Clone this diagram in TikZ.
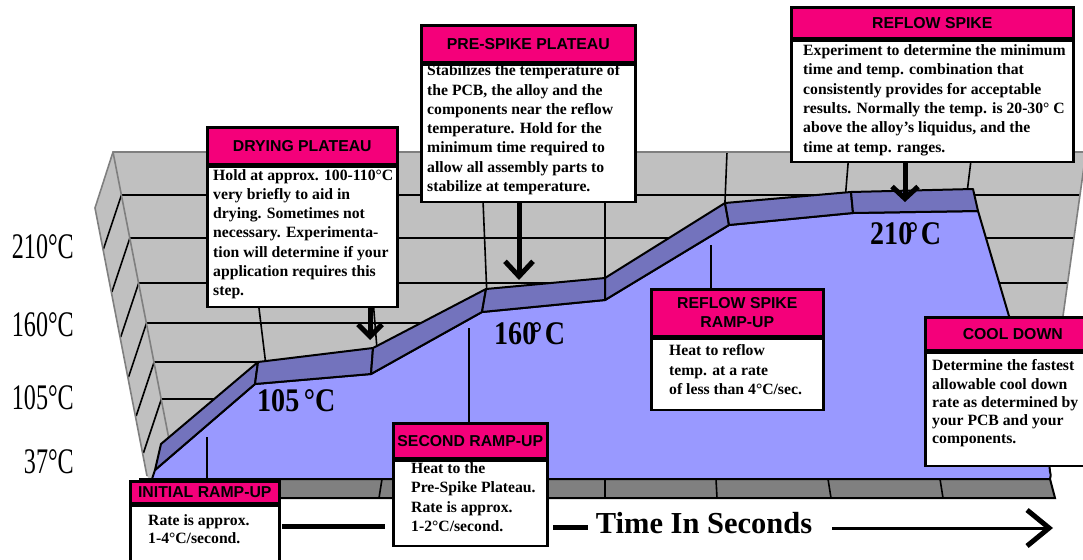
\documentclass[tikz,border=0pt]{standalone}
\usepackage{fontspec}
\usepackage{graphicx}
\setmainfont{Liberation Serif}
\newfontfamily\hfont{Liberation Sans}
\usetikzlibrary{arrows.meta,calc}
\definecolor{wallgray}{HTML}{C0C0C0}
\definecolor{floorgray}{HTML}{808080}
\definecolor{edgegray}{HTML}{7F7F7F}
\definecolor{lilac}{HTML}{9999FF}
\definecolor{ribbon}{HTML}{7373BD}
\definecolor{magentabox}{HTML}{F4007A}
\begin{document}
\begin{tikzpicture}[x=1pt,y=-1pt,
  wallline/.style={line width=1.6pt},
  edgeline/.style={draw=edgegray,line width=1.6pt},
  hdr/.style={draw, line width=2.6pt, fill=magentabox, inner sep=0pt, anchor=north west, align=center, font=\hfont\bfseries\fontsize{15.8}{18.5}\selectfont},
  bodybox/.style={draw, line width=2.6pt, fill=white, inner sep=0pt, anchor=north west},
  bodytext/.style={inner sep=0pt, anchor=north west, align=left, font=\bfseries\fontsize{15.7}{19.3}\selectfont},
  templab/.style={inner sep=0pt, anchor=east, font=\fontsize{36}{40}\selectfont},
  plotlab/.style={inner sep=0pt, anchor=west, font=\bfseries\fontsize{33}{36}\selectfont},
  bigarrow/.style={line width=5pt, -{Straight Barb[length=12pt,width=24pt]}},
  leader/.style={line width=1.4pt},
  axisline/.style={line width=5pt},
  band/.style={fill=ribbon, draw=black, line width=2pt, line join=round},
]
\useasboundingbox (0,0) rectangle (1083,559);
\clip (0,0) rectangle (1083,559);

% ---------- back wall and side wall ----------
\fill[wallgray] (113,152) -- (1086,152) -- (1040,480) -- (150,480) -- (147,476) -- (95,208) -- cycle;
\foreach \y in {195,238,283,323,362,399,440}{
  \draw[wallline] ({113+(\y-152)*0.196},\y) -- ({1086-(\y-152)*0.142},\y);
  \draw[wallline] ({113+(\y-152)*0.196},\y) -- ++(-18,54);
}
\foreach \xt in {240,361,481,605,727,849,972}{
  \draw[wallline] (\xt,152) -- ({605+(\xt-605)*0.8907},480);
}
\draw[edgeline] (147,476) -- (95,208) -- (113,152) -- (1086,152) -- (1040,480);
\draw[edgeline] (113,152) -- (175,470);

% ---------- profile area ----------
\filldraw[fill=lilac, line width=2pt, line join=round] (155,470) -- (255,384) -- (371,374) -- (482,312) -- (605,300) -- (729,225) -- (853,213) -- (978,211) -- (1052,462) .. controls (1046,468) and (1053,474) .. (1050,479) -- (152,479) -- cycle;
\filldraw[band] (161,444) -- (258,362) -- (255,384) -- (155,470) -- cycle;
\filldraw[band] (258,362) -- (373,348) -- (371,374) -- (255,384) -- cycle;
\filldraw[band] (373,348) -- (486,289) -- (482,312) -- (371,374) -- cycle;
\filldraw[band] (486,289) -- (605,278) -- (605,300) -- (482,312) -- cycle;
\filldraw[band] (605,278) -- (725,203) -- (729,225) -- (605,300) -- cycle;
\filldraw[band] (725,203) -- (851,192) -- (853,213) -- (729,225) -- cycle;
\filldraw[band] (851,192) -- (973,189) -- (978,211) -- (853,213) -- cycle;

% ---------- floor strip ----------
\filldraw[fill=floorgray, line width=2pt] (140,479) -- (1050,479) -- (1055,498) -- (140,498) -- cycle;
\foreach \a/\b in {382/379,494/493,605/605,716/717,828/831,940/943}{
  \draw[line width=1.6pt] (\a,479) -- (\b,498);
}

% ---------- temperature labels ----------
\node[templab] (l210) at (74,247) {\scalebox{0.67}[1]{210°C}};
\node[templab] (l160) at (74,325) {\scalebox{0.67}[1]{160°C}};
\node[templab] (l105) at (74,397.5) {\scalebox{0.67}[1]{105°C}};
\node[templab] (l37) at (74,461.5) {\scalebox{0.67}[1]{37°C}};

\node[plotlab] (p105) at (257,401) {\scalebox{0.85}[1]{105\,°C}};
\node[plotlab] (p160) at (494,334) {\scalebox{0.85}[1]{160\kern-6pt°\kern3pt C}};
\node[plotlab] (p210) at (870,234) {\scalebox{0.85}[1]{210\kern-6pt°\kern3pt C}};

% ---------- time axis ----------
\coordinate (axA) at (282,526);
\coordinate (axB) at (385,526);
\coordinate (axC) at (553,527);
\coordinate (axD) at (588,527);
\coordinate (axE) at (832,528);
\coordinate (axF) at (1053,528);
\draw[axisline] (axA) -- (axB);
\draw[axisline] (axC) -- (axD);
\draw[line width=3pt, -{Straight Barb[length=22pt,width=36pt,line width=5pt]}] (axE) -- (axF);
\node[inner sep=0pt, anchor=base, font=\bfseries\fontsize{30.5}{34}\selectfont] (time) at (704,533) {Time In Seconds};

% ---------- boxes ----------
% Drying plateau
\node[hdr, minimum width=190pt, minimum height=37pt] (dryH) at (206,126) {DRYING PLATEAU};
\node[bodybox, minimum width=190pt, minimum height=140pt] (dryB) at (dryH.south west) {};
\node[bodytext] (dryT) at (213,169) {Hold at approx. 100-110°C\\very briefly to aid in\\drying. Sometimes not\\necessary. Experimenta-\\tion will determine if your\\application requires this\\step.};

% Pre-spike plateau
\node[hdr, minimum width=214pt, minimum height=37pt] (preH) at (420,24) {PRE-SPIKE PLATEAU};
\node[bodybox, minimum width=214pt, minimum height=137pt] (preB) at (preH.south west) {};
\node[bodytext] (preT) at (427,64.5) {Stabilizes the temperature of\\the PCB, the alloy and the\\components near the reflow\\temperature. Hold for the\\minimum time required to\\allow all assembly parts to\\stabilize at temperature.};

% Reflow spike
\node[hdr, minimum width=282pt, minimum height=31pt] (refH) at (790,6) {REFLOW SPIKE};
\node[bodybox, minimum width=282pt, minimum height=121pt] (refB) at (refH.south west) {};
\node[bodytext] (refT) at (803,44.5) {Experiment to determine the minimum\\time and temp. combination that\\consistently provides for acceptable\\results. Normally the temp. is 20-30° C\\above the alloy’s liquidus, and the\\time at temp. ranges.};

% Reflow spike ramp-up
\node[hdr, minimum width=172pt, minimum height=47pt] (rruH) at (650,288) {REFLOW SPIKE\\RAMP-UP};
\node[bodybox, minimum width=172pt, minimum height=71pt] (rruB) at (rruH.south west) {};
\node[bodytext] (rruT) at (669,344.5) {Heat to reflow\\temp. at a rate\\of less than 4°C/sec.};

% Cool down
\node[hdr, minimum width=175pt, minimum height=33pt] (coolH) at (924,316) {COOL DOWN};
\node[bodybox, minimum width=175pt, minimum height=113pt] (coolB) at (coolH.south west) {};
\node[bodytext, font=\bfseries\fontsize{15.7}{18.3}\selectfont] (coolT) at (932,359.5) {Determine the fastest\\allowable cool down\\rate as determined by\\your PCB and your\\components.};

% Second ramp-up
\node[hdr, minimum width=154pt, minimum height=35pt] (secH) at (392,422) {SECOND RAMP-UP};
\node[bodybox, minimum width=154pt, minimum height=85pt] (secB) at (secH.south west) {};
\node[bodytext] (secT) at (411,462.5) {Heat to the\\Pre-Spike Plateau.\\Rate is approx.\\1-2°C/second.};

% Initial ramp-up
\node[hdr, minimum width=149pt, minimum height=22pt] (initH) at (129,480) {INITIAL RAMP-UP};
\node[bodybox, minimum width=149pt, minimum height=80pt] (initB) at (initH.south west) {};
\node[bodytext, font=\bfseries\fontsize{15.7}{18}\selectfont] (initT) at (148,514.5) {Rate is approx.\\1-4°C/second.};

% ---------- leaders ----------
\coordinate (leadInit) at (207,437);
\coordinate (leadSec) at (469,328);
\coordinate (leadRru) at (711,245);
\draw[leader] (leadInit) -- (leadInit |- initH.north);
\draw[leader] (leadSec) -- (leadSec |- secH.north);
\draw[leader] (leadRru) -- (leadRru |- rruH.north);

% ---------- arrows ----------
\coordinate (dryTip) at (370,340);
\coordinate (preTip) at (519,280);
\coordinate (refTip) at (905,202);
\draw[bigarrow] (dryTip |- dryB.south) -- (dryTip);
\draw[bigarrow, -{Straight Barb[length=15pt,width=28pt]}] (preTip |- preB.south) -- (preTip);
\draw[bigarrow, -{Straight Barb[length=12pt,width=26pt]}] (refTip |- refB.south) -- (refTip);
\end{tikzpicture}
\end{document}
